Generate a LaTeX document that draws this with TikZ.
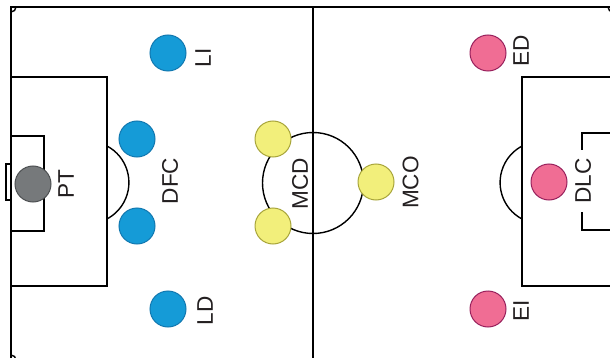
\documentclass[tikz,border=0pt]{standalone}
\usepackage{fontspec}
\setmainfont{Liberation Sans}
\definecolor{texto}{RGB}{35,31,32}
\definecolor{azul}{RGB}{21,155,215}
\definecolor{azulborde}{RGB}{17,120,176}
\definecolor{gris}{RGB}{118,121,123}
\definecolor{grisborde}{RGB}{77,80,82}
\definecolor{amarillo}{RGB}{242,239,123}
\definecolor{amarilloborde}{RGB}{168,165,58}
\definecolor{rosa}{RGB}{240,109,148}
\definecolor{rosaborde}{RGB}{152,32,92}
\begin{document}
\begin{tikzpicture}[x=0.5pt,y=0.5pt,yscale=-1,xscale=1,
        linea/.style={line width=0.7pt, color=black},
        jugador/.style={circle, minimum size=18pt, inner sep=0pt, line width=0.5pt},
        portero/.style={jugador, fill=gris, draw=grisborde},
        defensa/.style={jugador, fill=azul, draw=azulborde},
        medio/.style={jugador, fill=amarillo, draw=amarilloborde},
        delantero/.style={jugador, fill=rosa, draw=rosaborde},
        etiqueta/.style={rotate=90, inner xsep=4pt, inner ysep=0pt, fill=white, text=texto, font=\fontsize{11.3}{13}\selectfont}]
        \useasboundingbox (0,0) rectangle (610,358);

        % Field
        \draw [linea] (11,365) -- (11,7) -- (613,7) -- (613,365) ;
        \draw [linea] (313,7) -- (313,365) ;
        \draw [linea] (16,7) arc [start angle=0, end angle=90, radius=5] ;
        \draw [linea] (11,355) arc [start angle=-90, end angle=0, radius=5] ;
        \draw [linea] (608,7) arc [start angle=180, end angle=90, radius=5] ;
        \draw [linea] (313,183) circle [radius=50.5] ;
        % Left area
        \draw [linea] (11,77) -- (107,77) -- (107,286) -- (11,286) ;
        \draw [linea] (11,136) -- (44,136) -- (44,231) -- (11,231) ;
        \draw [linea] (11,164) -- (6,164) -- (6,200) -- (11,200) ;
        \draw [linea] (107,146) arc [start angle=-62, end angle=62, radius=41.3] ;
        % Right area
        \draw [linea] (613,77) -- (522,77) -- (522,286) -- (613,286) ;
        \draw [linea] (613,133) -- (582,133) -- (582,230) -- (613,230) ;
        \draw [linea] (522,219) arc [start angle=118, end angle=242, radius=41.3] ;

        % Players
        \node [portero] (pt) at (33,184) {};
        \node [defensa] (li) at (168,53) {};
        \node [defensa] (dfcA) at (137,139) {};
        \node [defensa] (dfcB) at (137,226) {};
        \node [defensa] (ld) at (168,309) {};
        \node [medio] (mcdA) at (273,139) {};
        \node [medio] (mcdB) at (273,226) {};
        \node [medio] (mco) at (376,182) {};
        \node [delantero] (ed) at (488,53) {};
        \node [delantero] (dlc) at (549,182) {};
        \node [delantero] (ei) at (488,309) {};

        % Text Node
        \node [etiqueta] (ptTxt) at (66,184.5) {PT};
        \node [etiqueta] (liTxt) at (203,58) {LI};
        \node [etiqueta] (dfcTxt) at (170,181) {DFC};
        \node [etiqueta] (ldTxt) at (205,311) {LD};
        \node [etiqueta] (mcdTxt) at (300,184) {MCD};
        \node [etiqueta] (mcoTxt) at (410.5,182.5) {MCO};
        \node [etiqueta] (edTxt) at (521,51) {ED};
        \node [etiqueta] (dlcTxt) at (583,181) {DLC};
        \node [etiqueta] (eiTxt) at (521,310.5) {EI};

\end{tikzpicture}
\end{document}
